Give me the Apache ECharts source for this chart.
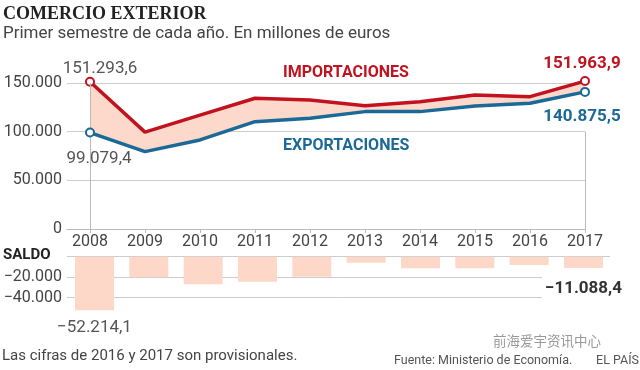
<!DOCTYPE html>
<html>
<head>
<meta charset="utf-8">
<script src="https://cdn.jsdelivr.net/npm/echarts@6/dist/echarts.min.js"></script>
<style>
html,body{margin:0;padding:0;background:#fff;}
#c{width:640px;height:370px;}
</style>
</head>
<body>
<div id="c"></div>
<script>
// ---- data ----
const years = [2008, 2009, 2010, 2011, 2012, 2013, 2014, 2015, 2016, 2017];
const imports = [151293.6, 99500, 117000, 134300, 132600, 126700, 130800, 137700, 136000, 151963.9];
const exportsV = [99079.4, 79500, 91500, 110300, 113800, 120600, 120600, 126400, 129200, 140875.5];
const balance = [-52214.1, -20100, -26900, -24400, -19500, -5900, -11300, -11300, -8100, -11088.4];
const topTicks = [0, 50000, 100000, 150000];
const bottomTicks = [-40000, -20000, 0];

const RED = '#c0131f';
const BLUE = '#1b6996';
const BAND = '#fcd9cb';
const BAR = '#fdd8c8';
const SANS = 'Roboto, "Open Sans", sans-serif';

function fmt(v, dec) {
  const neg = v < 0;
  const a = Math.abs(v);
  const s = dec ? a.toFixed(dec) : Math.round(a).toString();
  let parts = s.split('.');
  let i = parts[0].replace(/\B(?=(\d{3})+(?!\d))/g, '.');
  return (neg ? '\u2212' : '') + i + (parts[1] ? ',' + parts[1] : '');
}

const last = years.length - 1;

function endpointItem(i, vals, color, label) {
  const item = { value: [years[i], vals[i]] };
  if (i === 0 || i === last) {
    item.symbol = 'circle';
    item.symbolSize = 8;
    item.itemStyle = { color: '#fff', borderColor: color, borderWidth: 2 };
    if (label) item.label = label;
  }
  return item;
}

const impData = years.map((y, i) => endpointItem(i, imports, RED,
  i === 0 ? { show: true, position: 'inside', offset: [10, -13], color: '#555', fontSize: 17, fontFamily: SANS,
              formatter: p => fmt(p.value[1], 1) } :
  i === last ? { show: true, position: 'inside', offset: [-3, -17], color: RED, fontSize: 17, fontWeight: 'bold', fontFamily: SANS,
              formatter: p => fmt(p.value[1], 1) } : null));
const expData = years.map((y, i) => endpointItem(i, exportsV, BLUE,
  i === 0 ? { show: true, position: 'inside', offset: [9, 26], color: '#555', fontSize: 17, fontFamily: SANS,
              formatter: p => fmt(p.value[1], 1) } :
  i === last ? { show: true, position: 'inside', offset: [-3, 25], color: BLUE, fontSize: 17, fontWeight: 'bold', fontFamily: SANS,
              formatter: p => fmt(p.value[1], 1) } : null));

const barData = years.map((y, i) => {
  const item = { value: [y, balance[i]] };
  if (i === 0) item.label = { show: true, position: 'inside', offset: [0, 44], color: '#555', fontSize: 17, fontFamily: SANS,
                              formatter: p => fmt(p.value[1], 1) };
  if (i === last) item.label = { show: true, position: 'inside', offset: [0, 26], color: '#333', fontSize: 17, fontWeight: 'bold',
                                 fontFamily: SANS, backgroundColor: '#fff', padding: [3, 3],
                                 formatter: p => fmt(p.value[1], 1) };
  return item;
});

const chart = echarts.init(document.getElementById('c'), null, { renderer: 'canvas' });

chart.setOption({
  animation: false,
  backgroundColor: '#fff',
  grid: [
    { left: 67, right: 55, top: 83, height: 146 },
    { left: 67, right: 30, top: 256.7, height: 41 }
  ],
  xAxis: [
    { type: 'value', gridIndex: 0, min: 2007.582, max: 2017,
      splitLine: { show: false },
      axisLine: { show: true, onZero: false, lineStyle: { color: '#bbb', width: 1 } },
      axisTick: { show: true, length: 4, lineStyle: { color: '#bbb' }, customValues: years },
      axisLabel: { show: true, customValues: years, margin: 5, fontSize: 16, color: '#444', fontFamily: SANS,
                   formatter: v => String(v) } },
    { type: 'value', gridIndex: 1, min: 2007.494, max: 2017.488,
      splitLine: { show: false },
      axisLine: { show: false },
      axisTick: { show: false },
      axisLabel: { show: false } }
  ],
  yAxis: [
    { type: 'value', gridIndex: 0, min: 0, max: 150000, interval: 50000,
      axisLine: { show: false }, axisTick: { show: false },
      splitLine: { show: true, lineStyle: { color: '#ccc', width: 1 } },
      axisLabel: { margin: 5, fontSize: 16, color: '#444', fontFamily: SANS, formatter: v => fmt(v, 0) } },
    { type: 'value', gridIndex: 1, min: -40000, max: 0, interval: 20000,
      axisLine: { show: false }, axisTick: { show: false },
      splitLine: { show: true, lineStyle: { color: '#ccc', width: 1 } },
      axisLabel: { margin: 5, fontSize: 16, color: '#444', fontFamily: SANS,
                   formatter: v => v === 0 ? '' : fmt(v, 0) } }
  ],
  series: [
    // value first so that stacking happens on the value dimension
    { type: 'line', name: 'base', xAxisIndex: 0, yAxisIndex: 0, stack: 'band', silent: true,
      encode: { x: 1, y: 0 },
      symbol: 'none', lineStyle: { opacity: 0 }, z: 1,
      data: years.map((y, i) => [exportsV[i], y]) },
    { type: 'line', name: 'band', xAxisIndex: 0, yAxisIndex: 0, stack: 'band', silent: true,
      encode: { x: 1, y: 0 },
      symbol: 'none', lineStyle: { opacity: 0 }, areaStyle: { color: BAND, opacity: 1 }, z: 1,
      data: years.map((y, i) => [imports[i] - exportsV[i], y]) },
    { type: 'line', name: 'Importaciones', xAxisIndex: 0, yAxisIndex: 0, clip: false,
      symbol: 'none', lineStyle: { color: RED, width: 3.5 }, itemStyle: { color: RED }, z: 4,
      data: impData,
      markLine: { silent: true, symbol: 'none', label: { show: false },
        lineStyle: { color: '#bbb', width: 1, type: 'solid' },
        data: [
          [{ coord: [years[0], 0] }, { coord: [years[0], topTicks[3]] }],
          [{ coord: [years[last], 0] }, { coord: [years[last], topTicks[2]] }]
        ] } },
    { type: 'line', name: 'Exportaciones', xAxisIndex: 0, yAxisIndex: 0, clip: false,
      symbol: 'none', lineStyle: { color: BLUE, width: 3.5 }, itemStyle: { color: BLUE }, z: 5,
      data: expData },
    { type: 'bar', name: 'Saldo', xAxisIndex: 1, yAxisIndex: 1, clip: false, barWidth: 39,
      itemStyle: { color: BAR }, z: 3,
      data: barData }
  ],
  graphic: [
    { type: 'text', left: 3, top: 5, style: { text: 'COMERCIO EXTERIOR', fill: '#222',
      font: 'bold 18px "Liberation Serif", "DejaVu Serif", serif' } },
    { type: 'text', left: 3, top: 25, style: { text: 'Primer semestre de cada año. En millones de euros', fill: '#444',
      font: '17px ' + SANS } },
    { type: 'text', left: 283, top: 65, style: { text: 'IMPORTACIONES', fill: RED,
      font: 'bold 16px ' + SANS } },
    { type: 'text', left: 283, top: 138, style: { text: 'EXPORTACIONES', fill: BLUE,
      font: 'bold 16px ' + SANS } },
    { type: 'text', left: 3, top: 248, style: { text: 'SALDO', fill: '#222',
      font: 'bold 15px ' + SANS } },
    { type: 'text', left: 493, top: 334, style: { text: '前海爱宇资讯中心', fill: '#999',
      font: '13.5px "Noto Sans CJK SC", sans-serif' } },
    { type: 'text', left: 2, top: 349, style: { text: 'Las cifras de 2016 y 2017 son provisionales.', fill: '#444',
      font: '15px ' + SANS } },
    { type: 'text', left: 394, top: 354, style: { text: 'Fuente: Ministerio de Economía.', fill: '#555',
      font: '12.5px ' + SANS } },
    { type: 'text', right: 1, top: 354, style: { text: 'EL PAÍS', fill: '#555',
      font: '12.5px ' + SANS } }
  ]
});
</script>
</body>
</html>
